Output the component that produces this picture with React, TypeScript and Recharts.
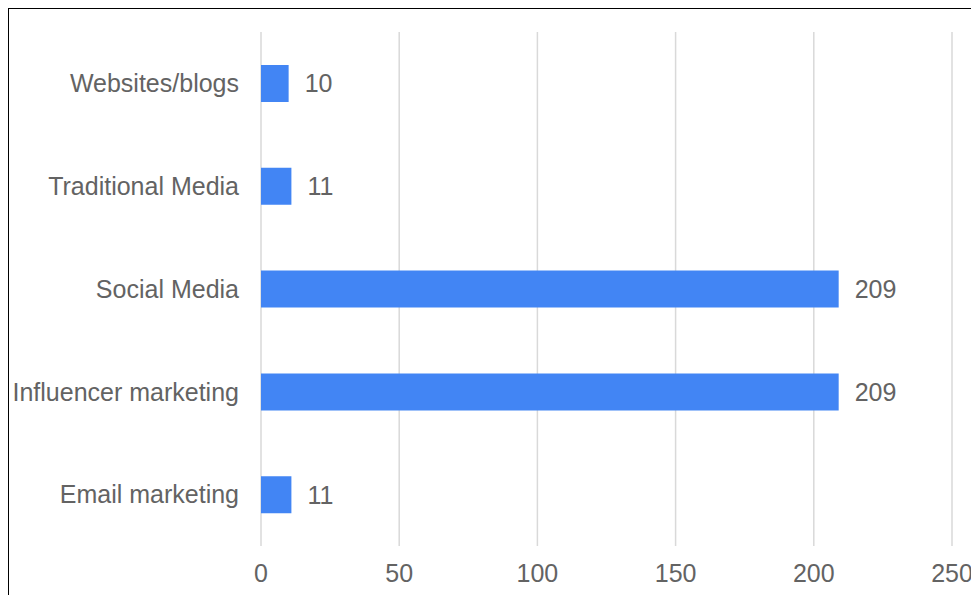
import { BarChart, Bar, XAxis, YAxis, CartesianGrid, LabelList } from 'recharts';

const channels = ['Websites/blogs', 'Traditional Media', 'Social Media', 'Influencer marketing', 'Email marketing'];
const counts = [10, 11, 209, 209, 11];
const xTicks = [0, 50, 100, 150, 200, 250];

const data = channels.map((name, i) => ({ name, value: counts[i] }));

const FONT = "'Liberation Sans', Arial, sans-serif";
const TEXT = '#636363';

export default function App() {
  return (
    <div
      style={{
        borderTop: '1px solid #000',
        borderLeft: '1px solid #000',
        width: 970,
        height: 586,
        background: '#fff',
      }}
    >
      <BarChart
        width={970}
        height={586}
        data={data}
        layout="vertical"
        margin={{ top: 23, right: 27, bottom: 0, left: 0 }}
        barCategoryGap={0}
      >
        <CartesianGrid horizontal={false} stroke="#d9d9d9" strokeWidth={1.5} />
        <XAxis
          type="number"
          domain={[0, 250]}
          ticks={xTicks}
          axisLine={false}
          tickLine={false}
          tickSize={0}
          tickMargin={18}
          height={49}
          tick={{ fill: TEXT, fontSize: 25, fontFamily: FONT }}
        />
        <YAxis
          type="category"
          dataKey="name"
          width={252}
          axisLine={false}
          tickLine={false}
          tickSize={0}
          tickMargin={22}
          tick={{ fill: TEXT, fontSize: 25, fontFamily: FONT }}
        />
        <Bar dataKey="value" fill="#4285f4" barSize={37} isAnimationActive={false}>
          <LabelList
            dataKey="value"
            position="right"
            offset={16}
            fill={TEXT}
            fontSize={25}
            fontFamily={FONT}
          />
        </Bar>
      </BarChart>
    </div>
  );
}
